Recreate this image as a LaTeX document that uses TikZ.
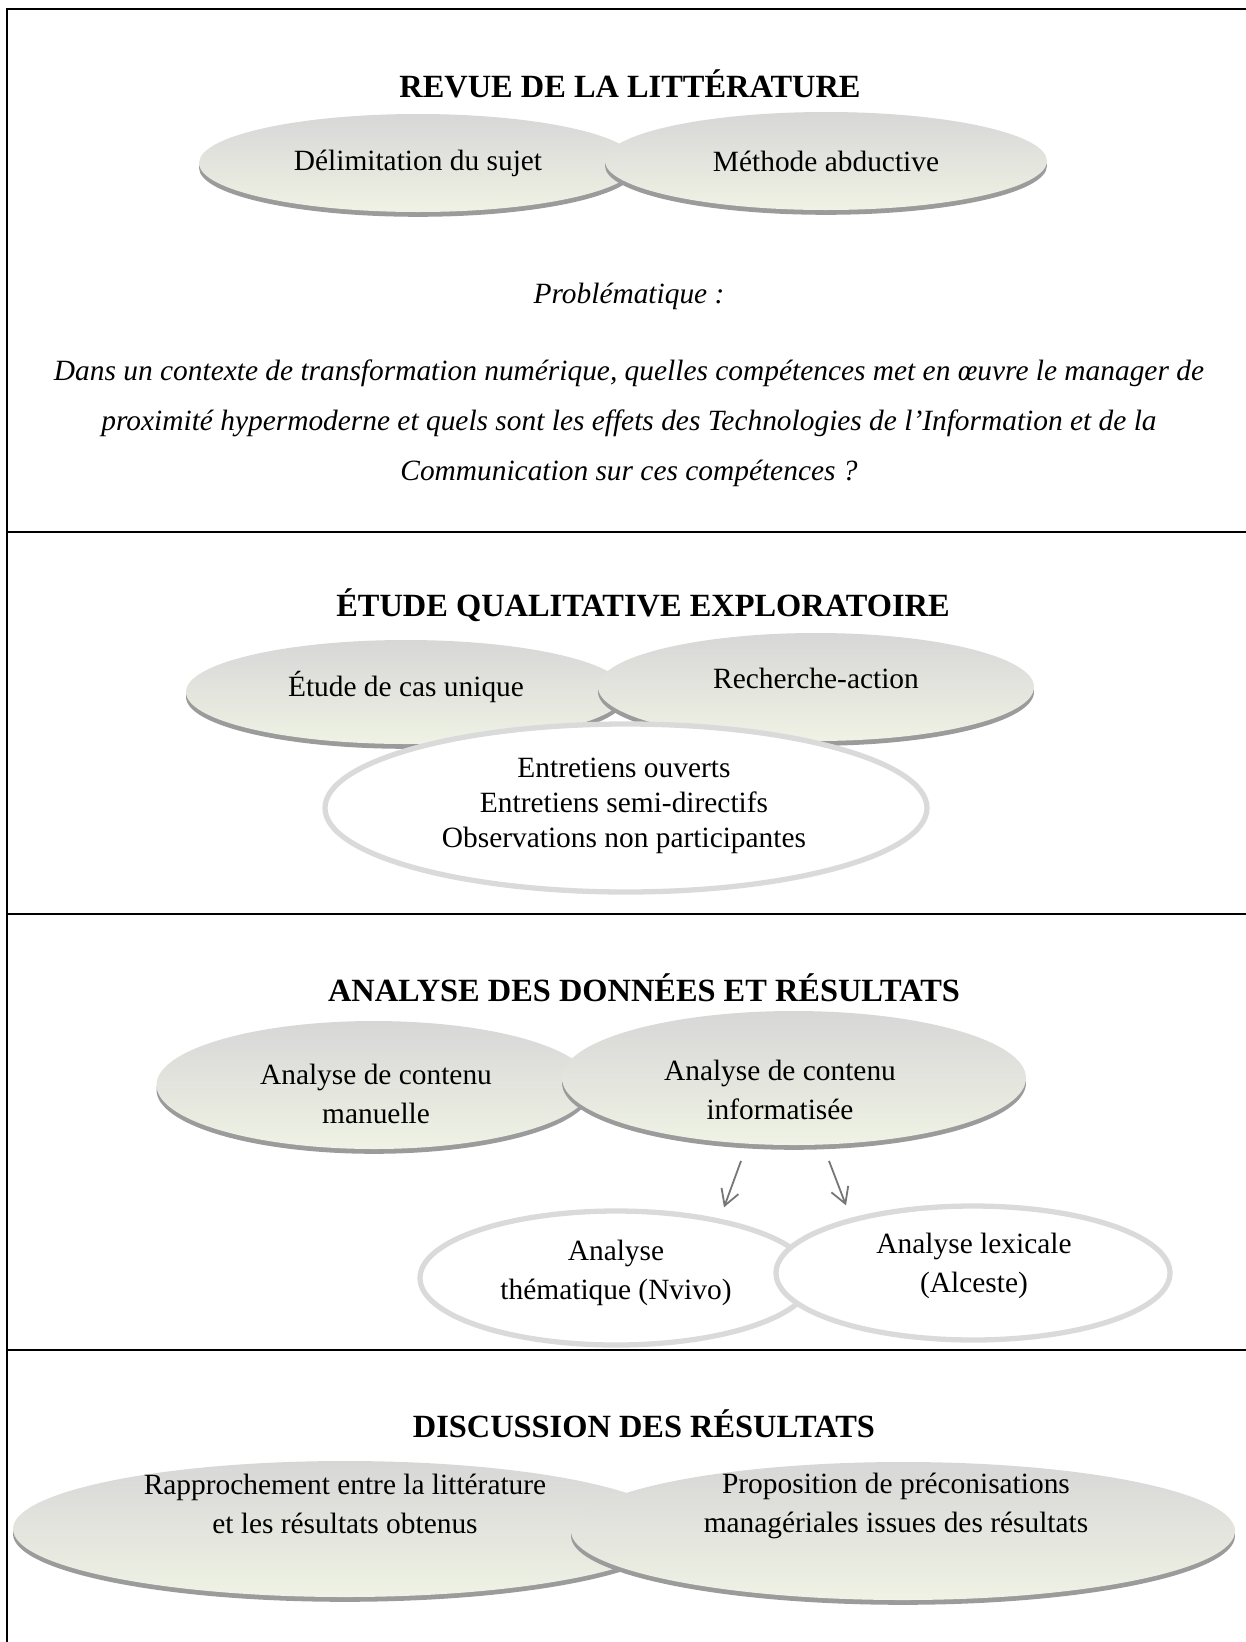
\documentclass[tikz,border=0pt]{standalone}
\usepackage{fontspec}
\setmainfont{Liberation Serif}
\usetikzlibrary{shapes.geometric,shadows,arrows.meta}

\definecolor{bubtop}{RGB}{215,215,215}
\definecolor{bubbot}{RGB}{239,242,228}
\definecolor{bubrim}{RGB}{155,155,155}
\definecolor{ringgray}{RGB}{218,218,218}
\definecolor{arrowgray}{RGB}{118,118,118}

\tikzset{every picture/.style={line width=0.75pt}}
\tikzset{
  ellsize/.style 2 args={minimum width=#1*0.4167pt, minimum height=#2*0.4167pt},
  bubble/.style={shape=ellipse, inner sep=0pt, draw=none, top color=bubtop, bottom color=bubbot,
    drop shadow={shadow xshift=0pt, shadow yshift=-2pt, fill=bubrim, opacity=1}},
  ring/.style={shape=ellipse, inner sep=0pt, draw=ringgray, line width=2.2pt, fill=white},
  heading/.style={font=\bfseries\fontsize{13.5}{16}\selectfont, inner sep=0pt},
  txt/.style={font=\fontsize{12.25}{16.2}\selectfont, align=center, inner sep=0pt},
  pointer/.style={draw=arrowgray, line width=0.75pt, -{Straight Barb[length=6.5pt,width=7.5pt]}},
  rule/.style={line width=0.85pt},
}

\begin{document}
\begin{tikzpicture}[x=0.4167pt,y=0.4167pt,yscale=-1,xscale=1]
\useasboundingbox (0,0) rectangle (1246,1642);
\clip (0,0) rectangle (1246,1642);

%Table frame
\draw [rule] (7,1660) -- (7,9) -- (1260,9) ;
\draw [rule] (7,532) -- (1260,532) ;
\draw [rule] (7,914) -- (1260,914) ;
\draw [rule] (7,1350) -- (1260,1350) ;

%Shape: Ellipses, first block
\node [bubble, ellsize={438}{98}] (delim) at (418,163) {};
\node [bubble, ellsize={442}{98}] (abduct) at (826,161) {};

%Shape: Ellipses, second block
\node [bubble, ellsize={440}{104}] (etude) at (406,692) {};
\node [bubble, ellsize={436}{108}] (rech) at (816,687) {};
\node [ring, ellsize={602}{168}] (entret) at (626,808) {};

%Shape: Ellipses, third block
\node [bubble, ellsize={435}{128}] (manu) at (374,1085) {};
\node [bubble, ellsize={464}{134}] (info) at (794,1078) {};
\node [ring, ellsize={392}{134}] (nvivo) at (616,1278) {};
\node [ring, ellsize={394}{134}] (alceste) at (973,1273) {};

%Shape: Ellipses, fourth block
\node [bubble, ellsize={664}{136}] (rappro) at (345,1529) {};
\node [bubble, ellsize={664}{138}] (propo) at (903,1531) {};

%Straight Lines
\draw [pointer] ([shift={(-53,15)}]info.south) -- ([shift={(108,-1)}]nvivo.north) ;
\draw [pointer] ([shift={(35,15)}]info.south) -- ([shift={(-127,2)}]alceste.north) ;

% Text Node
\node [heading] (revue) at (630,84) {REVUE DE LA LITTÉRATURE};
\node [txt] (delimtxt) at (418,163) {Délimitation du sujet};
\node [txt] (abducttxt) at (826,161) {Méthode abductive};
\node [txt, font=\itshape\fontsize{12.25}{14}\selectfont] (probl) at (629,296) {Problématique :};
\node [txt, font=\itshape\fontsize{12.25}{20.8}\selectfont] (question) at (629,423) {Dans un contexte de transformation numérique, quelles compétences met en œuvre le manager de\\ proximité hypermoderne et quels sont les effets des Technologies de l’Information et de la\\ Communication sur ces compétences ?};

% Text Node
\node [heading] (etudetitle) at (643,605) {ÉTUDE QUALITATIVE EXPLORATOIRE};
\node [txt] (etudetxt) at (406,687) {Étude de cas unique};
\node [txt] (rechtxt) at (816,678) {Recherche-action};
\node [txt, font=\fontsize{12.25}{14.6}\selectfont] (entrettxt) at (624,806) {Entretiens ouverts\\ Entretiens semi-directifs\\ Observations non participantes};

% Text Node
\node [heading] (analyse) at (644,988) {ANALYSE DES DONNÉES ET RÉSULTATS};
\node [txt] (manutxt) at (376,1094) {Analyse de contenu\\ manuelle};
\node [txt] (infotxt) at (780,1090) {Analyse de contenu\\ informatisée};
\node [txt] (nvivotxt) at (616,1273) {Analyse\\ thématique (Nvivo)};
\node [txt] (alcestetxt) at (974,1266) {Analyse lexicale\\ (Alceste)};

% Text Node
\node [heading] (discuss) at (644,1424) {DISCUSSION DES RÉSULTATS};
\node [txt] (rapprotxt) at (345,1504) {Rapprochement entre la littérature\\ et les résultats obtenus};
\node [txt] (propotxt) at (896,1506) {Proposition de préconisations\\ managériales issues des résultats};

\end{tikzpicture}
\end{document}
